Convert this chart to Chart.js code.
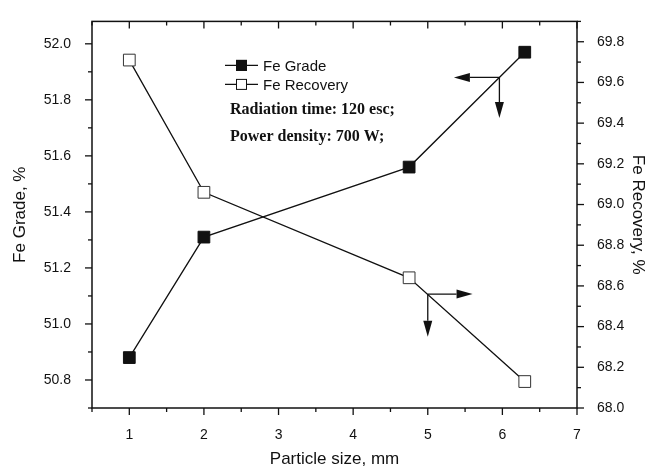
<!DOCTYPE html>
<html>
<head>
<meta charset="utf-8">
<script src="https://cdn.jsdelivr.net/npm/chart.js@4.4.1/dist/chart.umd.min.js"></script>
<style>
  html, body { margin: 0; padding: 0; background: #fff; }
  #wrap { width: 663px; height: 474px; }
</style>
</head>
<body>
<div id="wrap"><canvas id="c" width="663" height="474"></canvas></div>
<script>
// ---- data ----
const particleSize = [1, 2, 4.75, 6.3];
const feGrade = [50.88, 51.31, 51.56, 51.97];
const feRecovery = [69.71, 69.06, 68.64, 68.13];
const xTickValues = [1, 2, 3, 4, 5, 6, 7];
const gradeTickValues = [50.8, 51.0, 51.2, 51.4, 51.6, 51.8, 52.0];
const recoveryTickValues = [68.0, 68.2, 68.4, 68.6, 68.8, 69.0, 69.2, 69.4, 69.6, 69.8];
const seriesNames = ['Fe Grade', 'Fe Recovery'];
const noteLines = ['Radiation time: 120 esc;', 'Power density: 700 W;'];
// arrows: corner point on a curve (data coords), horizontal tip x, vertical tip y, axis id
const arrowCorners = [
  { axis: 'y', x: 5.96, y: 51.88, hx: 5.35, vy: 51.735 },
  { axis: 'y1', x: 5.0, y: 68.56, hx: 5.6, vy: 68.35 }
];

const INK = '#111';

const framePlugin = {
  id: 'frame',
  afterDraw(chart) {
    const ctx = chart.ctx;
    const a = chart.chartArea;
    const sx = chart.scales.x, sy = chart.scales.y, sy1 = chart.scales.y1;
    ctx.save();
    ctx.strokeStyle = INK;
    ctx.lineWidth = 1.5;
    ctx.strokeRect(a.left, a.top, a.right - a.left, a.bottom - a.top);
    ctx.lineWidth = 1.3;
    // x ticks (bottom outward, top inward)
    for (let k = 1; k <= 14; k++) {
      const v = k * 0.5;
      const p = sx.getPixelForValue(v);
      const len = (k % 2 === 0) ? 7 : 4;
      ctx.beginPath();
      ctx.moveTo(p, a.bottom); ctx.lineTo(p, a.bottom + len);
      ctx.moveTo(p, a.top); ctx.lineTo(p, a.top + len);
      ctx.stroke();
    }
    // left ticks
    for (let k = 507; k <= 520; k++) {
      const v = k / 10;
      if (v < sy.min || v > sy.max) continue;
      const p = sy.getPixelForValue(v);
      const len = (k % 2 === 0) ? 7 : 4;
      ctx.beginPath(); ctx.moveTo(a.left, p); ctx.lineTo(a.left - len, p); ctx.stroke();
    }
    // right ticks
    for (let k = 680; k <= 699; k++) {
      const v = k / 10;
      if (v < sy1.min || v > sy1.max) continue;
      const p = sy1.getPixelForValue(v);
      const len = (k % 2 === 0) ? 7 : 4;
      ctx.beginPath(); ctx.moveTo(a.right, p); ctx.lineTo(a.right + len, p); ctx.stroke();
    }
    // arrows
    ctx.fillStyle = INK;
    ctx.lineWidth = 1.3;
    arrowCorners.forEach(ar => {
      const ys = chart.scales[ar.axis];
      const cx = sx.getPixelForValue(ar.x), cy = ys.getPixelForValue(ar.y);
      const hx = sx.getPixelForValue(ar.hx), vy = ys.getPixelForValue(ar.vy);
      const headL = 16, headW = 4.5;
      const dirH = Math.sign(hx - cx);
      ctx.beginPath();
      ctx.moveTo(cx, cy); ctx.lineTo(hx - dirH * headL, cy);
      ctx.moveTo(cx, cy); ctx.lineTo(cx, vy - headL);
      ctx.stroke();
      ctx.beginPath();
      ctx.moveTo(hx, cy); ctx.lineTo(hx - dirH * headL, cy - headW); ctx.lineTo(hx - dirH * headL, cy + headW); ctx.closePath(); ctx.fill();
      ctx.beginPath();
      ctx.moveTo(cx, vy); ctx.lineTo(cx - headW, vy - headL); ctx.lineTo(cx + headW, vy - headL); ctx.closePath(); ctx.fill();
    });
    // legend
    const lx = a.left + 133, ly = a.top + 44;
    [0, 1].forEach(i => {
      const y = ly + i * 19;
      ctx.beginPath(); ctx.moveTo(lx, y); ctx.lineTo(lx + 33, y); ctx.stroke();
      ctx.fillStyle = i === 0 ? INK : '#fff';
      ctx.fillRect(lx + 11, y - 5.5, 11, 11);
      ctx.lineWidth = 1;
      ctx.strokeRect(lx + 11.5, y - 5, 10, 10);
      ctx.lineWidth = 1.3;
      ctx.fillStyle = INK;
      ctx.font = '15px "Liberation Sans", Arial, sans-serif';
      ctx.textBaseline = 'middle';
      ctx.fillText(seriesNames[i], lx + 38, y + 1);
    });
    ctx.font = 'bold 16px "Liberation Serif", "Times New Roman", serif';
    ctx.textBaseline = 'alphabetic';
    ctx.fillText(noteLines[0], lx + 5, a.top + 93);
    ctx.fillText(noteLines[1], lx + 5, a.top + 120);
    ctx.restore();
  }
};

const tickFont = { family: '"Liberation Sans", Arial, sans-serif', size: 14 };
const titleFont = { family: '"Liberation Sans", Arial, sans-serif', size: 17 };

new Chart(document.getElementById('c'), {
  type: 'line',
  data: {
    datasets: [
      {
        label: seriesNames[0],
        data: particleSize.map((x, i) => ({ x, y: feGrade[i] })),
        yAxisID: 'y',
        borderColor: INK, borderWidth: 1.3,
        pointStyle: 'rect', pointRadius: 8.3, pointBorderWidth: 1,
        pointBackgroundColor: INK, pointBorderColor: INK,
        tension: 0
      },
      {
        label: seriesNames[1],
        data: particleSize.map((x, i) => ({ x, y: feRecovery[i] })),
        yAxisID: 'y1',
        borderColor: INK, borderWidth: 1.3,
        pointStyle: 'rect', pointRadius: 8.3, pointBorderWidth: 1,
        pointBackgroundColor: '#fff', pointBorderColor: '#333',
        tension: 0
      }
    ]
  },
  options: {
    responsive: false,
    animation: false,
    devicePixelRatio: 1,
    layout: { padding: { top: 9, left: 0, right: 0, bottom: 0 } },
    plugins: { legend: { display: false }, tooltip: { enabled: false } },
    scales: {
      x: {
        type: 'linear', min: 0.5, max: 7,
        afterBuildTicks: s => { s.ticks = xTickValues.map(v => ({ value: v })); },
        afterFit: s => { s.height = 66; },
        grid: { display: false }, border: { display: false },
        ticks: { font: tickFont, color: INK, padding: 11, maxRotation: 0 },
        title: { display: true, text: 'Particle size, mm', font: titleFont, color: INK, padding: { bottom: 4, top: 0 } }
      },
      y: {
        type: 'linear', position: 'left', min: 50.7, max: 52.08,
        afterBuildTicks: s => { s.ticks = gradeTickValues.map(v => ({ value: v })); },
        afterFit: s => { s.width = 92; },
        grid: { display: false }, border: { display: false },
        ticks: { font: tickFont, color: INK, padding: 13, callback: v => v.toFixed(1) },
        title: { display: true, text: 'Fe Grade, %', font: titleFont, color: INK, padding: { top: 10, bottom: 0 } }
      },
      y1: {
        type: 'linear', position: 'right', min: 68.0, max: 69.9,
        afterBuildTicks: s => { s.ticks = recoveryTickValues.map(v => ({ value: v })); },
        afterFit: s => { s.width = 86; },
        grid: { display: false }, border: { display: false },
        ticks: { font: tickFont, color: INK, padding: 12, callback: v => v.toFixed(1) },
        title: { display: true, text: 'Fe Recovery, %', font: titleFont, color: INK, padding: { top: 15, bottom: 0 } }
      }
    }
  },
  plugins: [framePlugin]
});
</script>
</body>
</html>
